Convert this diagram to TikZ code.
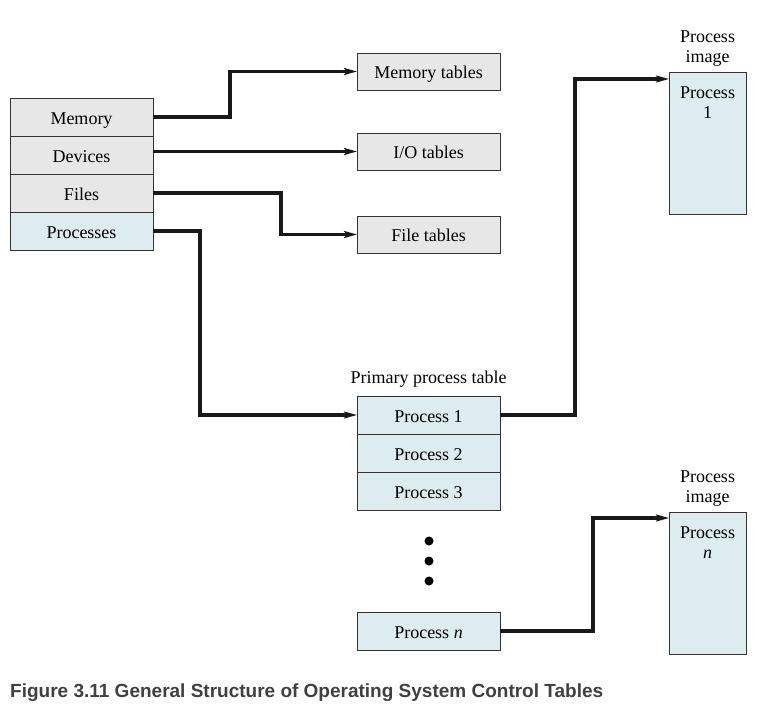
\documentclass[tikz,border=0pt]{standalone}
\usepackage{fontspec}
\setmainfont{Liberation Serif}
\newfontfamily\captionfont{Liberation Sans}
\usetikzlibrary{positioning,arrows.meta}
\definecolor{GrayFill}{HTML}{E7E7E7}
\definecolor{CyanFill}{HTML}{DDECEE}
\definecolor{CaptionGray}{HTML}{404040}
\begin{document}
\begin{tikzpicture}[x=1pt,y=-1pt]
  \tikzset{CellStyle/.style = {
    shape         = rectangle,
    draw          = black!80,
    fill          = GrayFill,
    line width    = 0.9pt,
    text          = black,
    inner sep     = 0pt,
    outer sep     = 0pt,
    minimum width = 143pt,
    minimum height= 38pt,
    text height   = 14pt,
    text depth    = 0pt,
    font          = \fontsize{18}{20}\selectfont
    }
  }
  \tikzset{ImageStyle/.style = {
    CellStyle,
    fill          = CyanFill,
    minimum width = 77pt,
    minimum height= 142pt
    }
  }
  \tikzset{EdgeStyle/.style = {
    draw          = black!90,
    line width    = 3.2pt,
    -{Stealth[length=13pt,width=7pt,inset=3pt]}
    }
  }
  \tikzset{LabelStyle/.style = {
    align         = center,
    inner sep     = 0pt,
    font          = \fontsize{18}{20}\selectfont
    }
  }
  \useasboundingbox (0,0) rectangle (771,717);

	\node[CellStyle](L1) at (81.5, 117) {Memory};
	\node[CellStyle](L2) at (81.5, 155) {Devices};
	\node[CellStyle](L3) at (81.5, 193) {Files};
	\node[CellStyle, fill=CyanFill](L4) at (81.5, 231) {Processes};

	\node[CellStyle, minimum height=37pt](T1) at (428.5, 71.5) {Memory tables};
	\node[CellStyle, minimum height=37pt](T2) at (428.5, 151.5) {I/O tables};
	\node[CellStyle, minimum height=37pt](T3) at (428.5, 234.5) {File tables};

	\node[CellStyle, fill=CyanFill](P1) at (428.5, 415) {Process 1};
	\node[CellStyle, fill=CyanFill](P2) at (428.5, 453) {Process 2};
	\node[CellStyle, fill=CyanFill](P3) at (428.5, 491) {Process 3};
	\node[CellStyle, fill=CyanFill](Pn) at (428.5, 631) {Process \textit{n}};
	\node[LabelStyle, above=8pt of P1] {Primary process table};

	\foreach \y in {541, 561, 581}
	  \fill[black] (429, \y) circle (4.5pt);

	\node[ImageStyle](I1) at (707.5, 143) {};
	\node[ImageStyle](In) at (707.5, 583) {};
	\node[LabelStyle, above=5pt of I1] {Process\\image};
	\node[LabelStyle, above=5pt of In] {Process\\image};
	\node[LabelStyle, below=15pt of I1.north] {Process\\1};
	\node[LabelStyle, below=15pt of In.north] {Process\\\textit{n}};

	\draw[EdgeStyle](L1.east) -- ++(77,0) |- (T1.west);
	\draw[EdgeStyle](T2.west -| L2.east) -- (T2.west);
	\draw[EdgeStyle](L3.east) -- ++(128,0) |- (T3.west);
	\draw[EdgeStyle](L4.east) -- ++(47,0) |- (P1.west);
	\draw[EdgeStyle](P1.east) -- ++(75,0) |- ([yshift=-7pt]I1.north west);
	\draw[EdgeStyle](Pn.east) -- ++(93,0) |- ([yshift=-6pt]In.north west);

	\node[anchor=base west, text=CaptionGray, inner sep=0pt,
	  font=\captionfont\bfseries\fontsize{19}{21}\selectfont](C1) at (10, 697)
	  {Figure 3.11 General Structure of Operating System Control Tables};

\end{tikzpicture}
\end{document}
